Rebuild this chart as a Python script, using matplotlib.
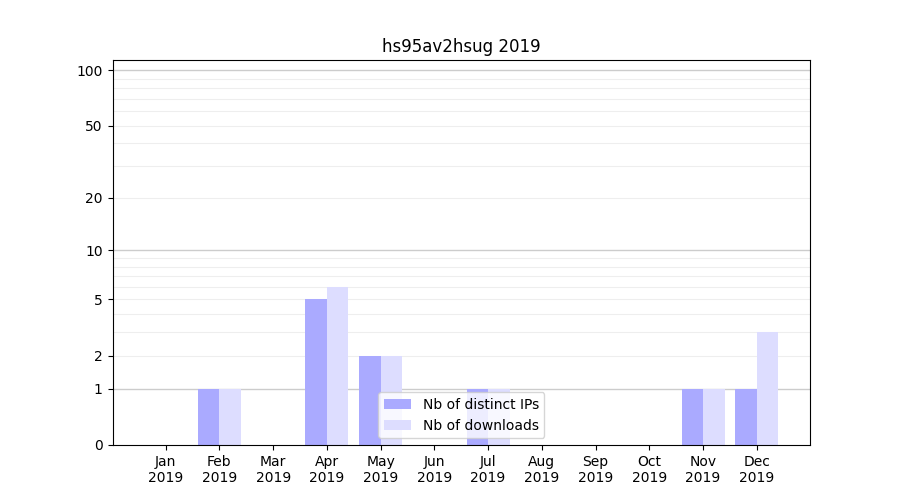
import numpy as np
import matplotlib.pyplot as plt

months = ['Jan', 'Feb', 'Mar', 'Apr', 'May', 'Jun',
          'Jul', 'Aug', 'Sep', 'Oct', 'Nov', 'Dec']
year = '2019'
ips = [0, 1, 0, 5, 2, 0, 1, 0, 0, 0, 1, 1]
downloads = [0, 1, 0, 6, 2, 0, 1, 0, 0, 0, 1, 3]
yticks = [0, 1, 2, 5, 10, 20, 50, 100]

fig, ax = plt.subplots(figsize=(9, 5), dpi=100)
ax.set_yscale('function', functions=(lambda v: np.log10(np.maximum(v, 0) + 1),
                                     lambda v: 10 ** v - 1))

x = np.arange(len(months))
ax.bar(x - 0.2, ips, width=0.4, color='#aaaaff', label='Nb of distinct IPs', zorder=2)
ax.bar(x + 0.2, downloads, width=0.4, color='#ddddff', label='Nb of downloads', zorder=2)

# grid lines: decades darker, the rest light
for v in [1, 10, 100]:
    ax.axhline(v, color='#cccccc', linewidth=1, zorder=1)
for d in [1, 10]:
    for k in range(2, 10):
        ax.axhline(k * d, color='#eeeeee', linewidth=0.8, zorder=1)

ax.set_ylim(0, 113.5)
ax.set_yticks(yticks)
ax.set_yticklabels([str(t) for t in yticks])
ax.yaxis.set_minor_locator(plt.NullLocator())
ax.set_xticks(x)
ax.set_xticklabels([m + '\n' + year for m in months])
ax.set_title('hs95av2hsug 2019')
ax.legend(loc='lower center')

plt.savefig('out.png')
